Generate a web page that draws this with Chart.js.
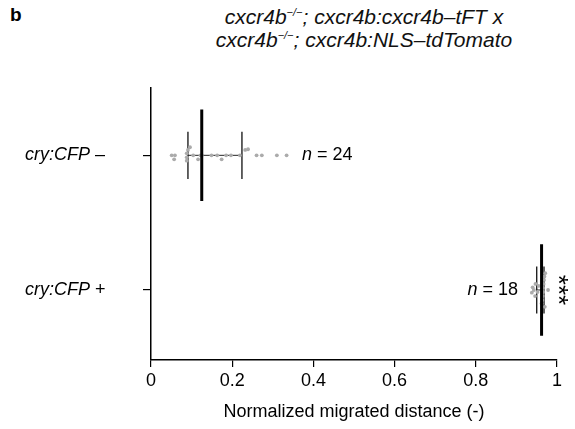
<!DOCTYPE html>
<html>
<head>
<meta charset="utf-8">
<script src="https://cdn.jsdelivr.net/npm/chart.js@4"></script>
<style>
  body { margin: 0; background: #fff; }
  #wrap { position: relative; width: 575px; height: 429px; font-family: "Liberation Sans", Arial, sans-serif; }
  #panel { position: absolute; left: 10px; top: 4px; font-size: 19px; font-weight: bold; }
  #title { position: absolute; left: 164px; width: 400px; top: 5px; text-align: center; font-style: italic; font-size: 21px; line-height: 23px; color: #111; }
  #title sup { font-size: 11px; vertical-align: 8px; line-height: 0; }
  canvas { position: absolute; left: 0; top: 0; }
</style>
</head>
<body>
<div id="wrap">
  <div id="panel">b</div>
  <div id="title">cxcr4b<sup>−/−</sup>; cxcr4b:cxcr4b–tFT x<br>cxcr4b<sup>−/−</sup>; cxcr4b:NLS–tdTomato</div>
  <canvas id="chart" width="575" height="429"></canvas>
</div>
<script>
// groups, top to bottom (y value 1 = top row, 0 = bottom row)
const categories = ['cry:CFP –', 'cry:CFP +'];
const rowValues = [1, 0];
const counts = [24, 18];
const medians = [0.125, 0.962];
const lowerWhisker = [0.091, 0.950];
const upperWhisker = [0.224, 0.968];
const xTicks = [0, 0.2, 0.4, 0.6, 0.8, 1];

// individual embryos
const negX = [0.051, 0.059, 0.057, 0.088, 0.088, 0.088, 0.091, 0.096, 0.104, 0.116, 0.122, 0.125,
              0.149, 0.163, 0.174, 0.185, 0.197, 0.219, 0.232, 0.239, 0.260, 0.273, 0.310, 0.334];
const negJitter = [0, 0, -0.03, -0.04, -0.015, 0.015, 0.04, 0.06, 0, -0.03, 0, 0,
                   0, 0, -0.03, 0, 0, 0, 0.04, 0.045, 0, 0, 0, 0];
const posX = [0.938, 0.940, 0.943, 0.946, 0.947, 0.952, 0.955, 0.962, 0.964, 0.965, 0.966, 0.966,
              0.967, 0.968, 0.969, 0.970, 0.971, 0.978];
const posJitter = [-0.02, 0.02, 0, -0.045, 0.045, -0.015, 0.03, -0.1, -0.075, -0.045, -0.015, 0.015,
                   0.045, 0.075, 0.1, -0.125, 0.125, 0];

const FONT = '"Liberation Sans", Arial, sans-serif';
const THICK_HALF = 0.34;
const THIN_HALF = 0.175;

const pts = (xs, js, row) => xs.map((x, i) => ({ x: x, y: row + js[i] }));

const medianSets = medians.map((m, i) => ({
  type: 'line',
  data: [{ x: m, y: rowValues[i] + THICK_HALF }, { x: m, y: rowValues[i] - THICK_HALF }],
  borderColor: '#000', borderWidth: 3, pointRadius: 0, showLine: true
}));

const whiskerSets = [];
categories.forEach((c, i) => {
  const r = rowValues[i];
  [lowerWhisker[i], upperWhisker[i]].forEach(w => {
    whiskerSets.push({
      type: 'line',
      data: [{ x: w, y: r + THIN_HALF }, { x: w, y: r - THIN_HALF }],
      borderColor: '#222', borderWidth: 1.4, pointRadius: 0, showLine: true
    });
  });
  whiskerSets.push({
    type: 'line',
    data: [{ x: lowerWhisker[i], y: r }, { x: upperWhisker[i], y: r }],
    borderColor: '#222', borderWidth: 1, pointRadius: 0, showLine: true
  });
});

const dotSets = [
  { data: pts(negX, negJitter, rowValues[0]) },
  { data: pts(posX, posJitter, rowValues[1]) }
].map(d => Object.assign(d, {
  type: 'scatter', backgroundColor: '#ababab', borderWidth: 0, pointRadius: 1.9
}));

const annotations = {
  id: 'annotations',
  afterDatasetsDraw(chart) {
    const ctx = chart.ctx;
    const xs = chart.scales.x, ys = chart.scales.y;
    ctx.save();
    ctx.fillStyle = '#000';
    ctx.textBaseline = 'middle';

    // row labels: italic gene name + upright sign
    categories.forEach((c, i) => {
      const y = ys.getPixelForValue(rowValues[i]);
      const name = c.slice(0, -2), sign = c.slice(-2);
      ctx.font = 'italic 18px ' + FONT;
      ctx.textAlign = 'left';
      const x0 = 25;
      ctx.fillText(name, x0, y);
      const w = ctx.measureText(name).width;
      ctx.font = '18px ' + FONT;
      ctx.fillText(sign, x0 + w, y);
    });

    // n labels: first one starts right of its whiskers, second ends left of them
    const nPos = [upperWhisker[0] + 0.148, lowerWhisker[1] - 0.046];
    counts.forEach((n, i) => {
      const y = ys.getPixelForValue(rowValues[i]);
      let x = xs.getPixelForValue(nPos[i]);
      const a = 'n', b = ' = ' + n;
      ctx.font = '18px ' + FONT;
      const wb = ctx.measureText(b).width;
      ctx.font = 'italic 18px ' + FONT;
      const wa = ctx.measureText(a).width;
      if (i === 1) x -= wa + wb;
      ctx.textAlign = 'left';
      ctx.fillText(a, x, y);
      ctx.font = '18px ' + FONT;
      ctx.fillText(b, x + wa, y);
    });

    // significance stars, rotated
    const starSize = 26;
    ctx.translate(xs.getPixelForValue(1) + 8, ys.getPixelForValue(rowValues[1]));
    ctx.rotate(Math.PI / 2);
    ctx.font = starSize + 'px ' + FONT;
    ctx.textAlign = 'center';
    ctx.textBaseline = 'alphabetic';
    ctx.fillText('***', 0, starSize * 0.57);
    ctx.restore();
  }
};

new Chart(document.getElementById('chart'), {
  type: 'scatter',
  data: { datasets: [...medianSets, ...dotSets, ...whiskerSets] },
  options: {
    responsive: false,
    animation: false,
    layout: { padding: { top: 88, right: 18, left: 0, bottom: 0 } },
    plugins: { legend: { display: false }, tooltip: { enabled: false } },
    scales: {
      x: {
        type: 'linear', min: 0, max: 1,
        afterBuildTicks: s => { s.ticks = xTicks.map(v => ({ value: v })); },
        afterFit: s => { s.height = 69; },
        grid: { drawOnChartArea: false, tickLength: 7, color: '#000', lineWidth: 1.2 },
        border: { color: '#000', width: 1.5 },
        ticks: { color: '#000', font: { family: FONT, size: 18 }, padding: 3, callback: v => String(v) },
        title: { display: true, text: 'Normalized migrated distance (-)', color: '#000',
                 font: { family: FONT, size: 18 }, padding: { top: 4, bottom: 6 } }
      },
      y: {
        type: 'linear', min: -0.52, max: 1.5,
        afterBuildTicks: s => { s.ticks = rowValues.map(v => ({ value: v })); },
        afterFit: s => { s.width = 151; },
        grid: { drawOnChartArea: false, tickLength: 8, color: '#000', lineWidth: 1.2 },
        border: { color: '#000', width: 1.5 },
        ticks: { display: true, callback: () => '' }
      }
    }
  },
  plugins: [annotations]
});
</script>
</body>
</html>
